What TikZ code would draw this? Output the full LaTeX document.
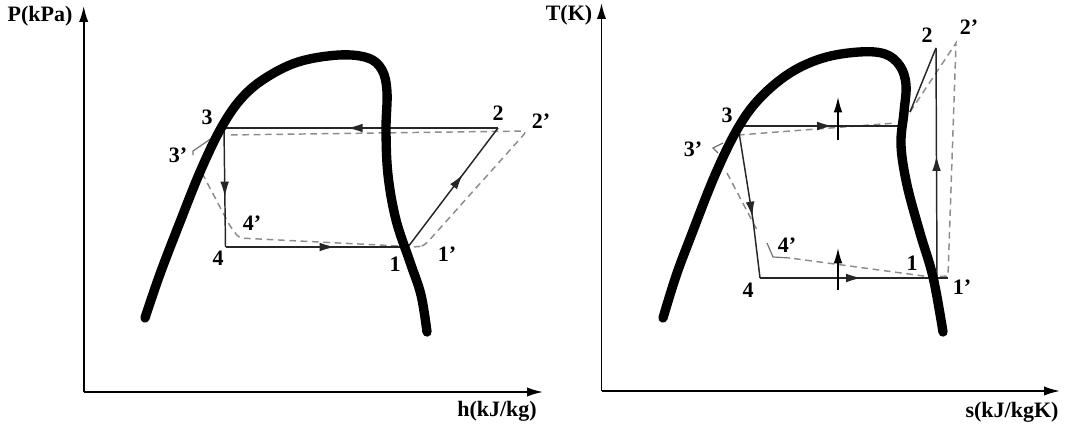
\documentclass[tikz,border=0pt]{standalone}
\usepackage{fontspec}
\setmainfont{Liberation Serif}
\usetikzlibrary{arrows.meta,decorations.markings}
\newcommand{\pr}{\char"0027\relax}
\begin{document}
\begin{tikzpicture}[x=0.75pt,y=-0.75pt,
  dome/.style={line width=7pt,line cap=round,line join=round},
  axis/.style={line width=1.3pt,-{Latex[length=12pt,width=7pt]}},
  cyc/.style={line width=1.1pt,draw=black!85},
  alt/.style={line width=1.1pt,draw=black!45,dash pattern=on 5pt off 3.5pt},
  stub/.style={line width=0.9pt,draw=black!55},
  lab/.style={font=\bfseries\fontsize{16.5}{18}\selectfont,inner sep=0pt},
  marr/.style={postaction={decorate},decoration={markings,mark=at position #1 with {\arrow{Latex[length=11.5pt,width=6.5pt]}}}},
  heat/.style={line width=1.1pt,-{Latex[length=11.5pt,width=6.5pt]}}
]
\useasboundingbox (0,0) rectangle (1067,428);

% ---------------- Left: P-h diagram ----------------
\coordinate (LO) at (83.7,392);
\coordinate (LY) at (83.7,6);
\coordinate (LX) at (543,392);
\draw[axis] (LO) -- (LY);
\draw[axis] (LO) -- (LX);
\node[lab] (Pax) at (40,16) {P(kPa)};
\node[lab] (hax) at (497,411) {h(kJ/kg)};

\coordinate (L1) at (408,247);
\coordinate (L2) at (498,128);
\coordinate (L3) at (224,128);
\coordinate (L4) at (225.5,247);

\draw[alt,rounded corners=3pt] (202,173) -- (230,226) -- (239,238) -- (419,247) -- (425,245) -- (527,131) -- (228,135);
\draw[stub] (212,138) -- (193,151) -- (193,155);

\draw[cyc,marr=0.61] (L1) -- (L2);
\draw[cyc,marr=0.55] (L2) -- (L3);
\draw[cyc,marr=0.58] (L3) -- (L4);
\draw[cyc,marr=0.6] (L4) -- (L1);

\draw[dome] plot[smooth,tension=0.6] coordinates {(145,318) (160,274) (180,222) (200,172) (220,130) (240,100) (264,79) (298,62) (339,55) (368,58) (382,70) (387,92) (386,130) (388,175) (396,220) (410,262) (421,295) (427,332)};

\node[lab] (l3) at (207,117) {3};
\node[lab] (l3p) at (178,155) {3\pr};
\node[lab] (l4p) at (252,223) {4\pr};
\node[lab] (l4) at (218,258) {4};
\node[lab] (l1) at (395,264) {1};
\node[lab] (l1p) at (447,254) {1\pr};
\node[lab] (l2) at (498,113) {2};
\node[lab] (l2p) at (541,121) {2\pr};

% ---------------- Right: T-s diagram ----------------
\coordinate (RO) at (601.5,391);
\coordinate (RY) at (601.5,3);
\coordinate (RX) at (1060,391);
\draw[axis] (RO) -- (RY);
\draw[axis] (RO) -- (RX);
\node[lab] (Tax) at (569,15) {T(K)};
\node[lab] (sax) at (1012,412) {s(kJ/kgK)};

\coordinate (R1) at (937,277);
\coordinate (R1c) at (948,278);
\coordinate (R2) at (936,48);
\coordinate (R2p) at (956,43);
\coordinate (R3) at (738,126);
\coordinate (Rs) at (901,126);
\coordinate (Rv) at (910,112);
\coordinate (Rk) at (753,220);
\coordinate (R4) at (760,278);

\draw[alt] (738,135) -- (896,123);
\draw[alt] (Rv) -- (R2p) -- (948,276) -- (931,277) -- (790,258);
\draw[alt] (727,173) -- (757,230);
\draw[stub] (767,243) -- (773,257) -- (790,258);
\draw[stub] (723,143) -- (713,148) -- (718,153);

\draw[cyc,marr=0.58] (R3) -- (Rs);
\draw[cyc] (Rv) -- (R2);
\draw[cyc,marr=0.53] (R1) -- (R2);
\draw[cyc,marr=0.54] (R4) -- (R1c);
\draw[cyc,marr=0.6] (R3) -- (Rk) -- (R4);

\draw[heat] (838,140) -- (838,97);
\draw[heat] (838,290) -- (838,248);

\draw[dome] plot[smooth,tension=0.6] coordinates {(663,318) (676,276) (691,236) (715,175) (738,128) (760,98) (790,73) (823,58) (859,52) (885,54) (900,66) (906,85) (904,112) (901,145) (907,185) (920,233) (933,277) (943,332)};

\node[lab] (r3) at (727,115) {3};
\node[lab] (r3p) at (693,149) {3\pr};
\node[lab] (r4p) at (787,245) {4\pr};
\node[lab] (r4) at (748,290) {4};
\node[lab] (r1) at (912,263) {1};
\node[lab] (r1p) at (962,287) {1\pr};
\node[lab] (r2) at (927,35) {2};
\node[lab] (r2p) at (969,27) {2\pr};
\end{tikzpicture}
\end{document}
